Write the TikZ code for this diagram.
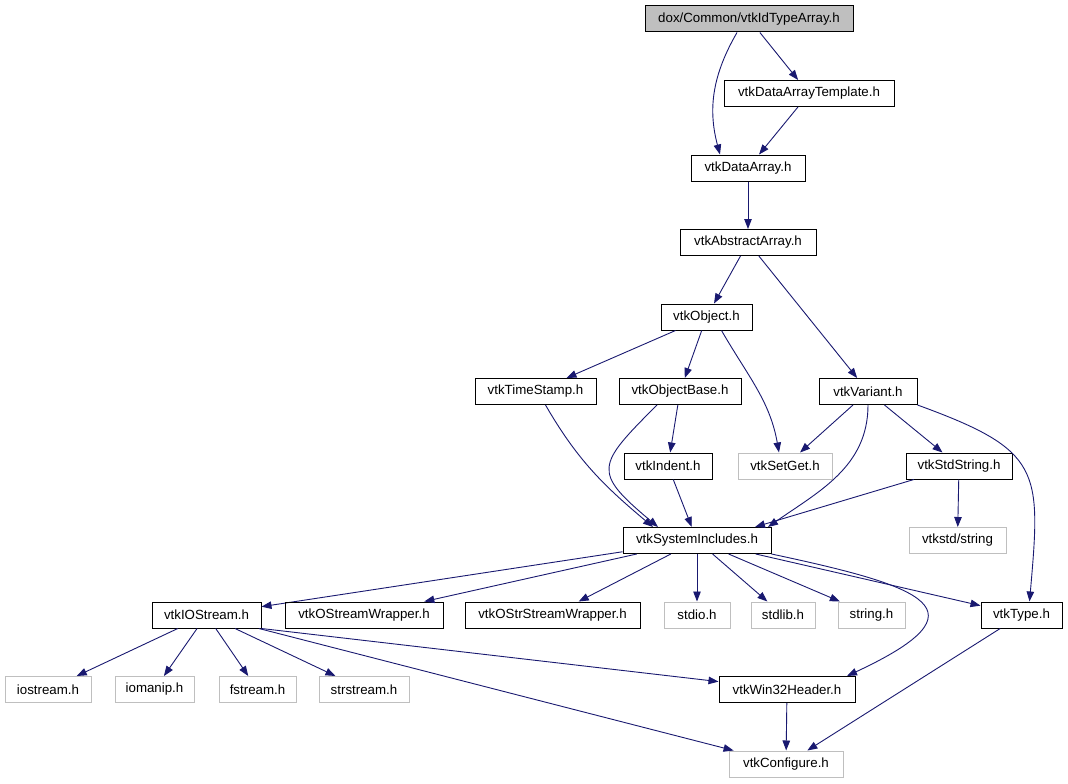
\documentclass[tikz,border=0pt]{standalone}
\usepackage{fontspec}
\setmainfont{Liberation Sans}
\usetikzlibrary{arrows.meta}
\definecolor{linkblue}{HTML}{191970}
\definecolor{sysgray}{HTML}{BFBFBF}
\tikzset{
    %Define standard arrow tip
    >={Triangle[length=10pt,width=7.5pt]},
    header/.style={
      rectangle,
      draw=black, line width=1pt,
      inner xsep=2pt, inner ysep=1pt,
      minimum height=26pt,
      font=\fontsize{13.3}{16}\selectfont,
      text centered},
    sysheader/.style={
      header,
      draw=sysgray},
    link/.style={
      draw=linkblue, line width=0.9pt},
}

\begin{document}
\begin{tikzpicture}[x=1pt, y=1pt, node distance=74.5pt,
    every edge/.style={link}]
    \useasboundingbox (0,0) rectangle (1068,-784);
    \node (idta) [header, fill=sysgray, minimum width=208pt] at (749,-19)
          {dox/Common/vtkIdTypeArray.h};
    \node (dat) [header, minimum width=170pt] [below of=idta, xshift=60pt]
          {vtkDataArrayTemplate.h}
          edge [<-] (idta);
    \node (da) [header, minimum width=114pt] [below of=dat, xshift=-61pt]
          {vtkDataArray.h}
          edge [<-] (dat);
    \node (aa) [header, minimum width=136pt] [below of=da]
          {vtkAbstractArray.h}
          edge [<-] (da);
    \node (obj) [header, minimum width=91pt] [below of=aa, xshift=-41.5pt]
          {vtkObject.h}
          edge [<-] (aa);
    \node (var) [header, minimum width=98pt] [below of=obj, xshift=161.5pt]
          {vtkVariant.h}
          edge [<-] (aa);
    \node (ts) [header, minimum width=121pt] [below of=obj, xshift=-171pt]
          {vtkTimeStamp.h}
          edge [<-] (obj);
    \node (ob) [header, minimum width=122pt] [below of=obj, xshift=-26.5pt]
          {vtkObjectBase.h}
          edge [<-] (obj);
    \node (sg) [sysheader, minimum width=94pt] [below of=ob, xshift=105pt]
          {vtkSetGet.h}
          edge [<-] (var);
    \node (ind) [header, minimum width=88pt] [below of=ob, xshift=-12pt]
          {vtkIndent.h}
          edge [<-] (ob);
    \node (ss) [header, minimum width=106pt] [below of=var, xshift=91pt]
          {vtkStdString.h}
          edge [<-] (var);
    \node (vs) [sysheader, minimum width=97pt] [below of=ss, xshift=-1.5pt]
          {vtkstd/string}
          edge [<-] (ss);
    \node (si) [header, minimum width=148pt] [below of=ind, xshift=29pt]
          {vtkSystemIncludes.h}
          edge [<-] (ind);
    \node (ios) [header, minimum width=109pt] [below of=si, xshift=-490.5pt]
          {vtkIOStream.h}
          edge [<-] (si);
    \node (osw) [header, minimum width=158pt] [below of=si, xshift=-333pt]
          {vtkOStreamWrapper.h}
          edge [<-] (si);
    \node (ossw) [header, minimum width=175pt] [below of=si, xshift=-144.5pt]
          {vtkOStrStreamWrapper.h}
          edge [<-] (si);
    \node (stdio) [sysheader, minimum width=66pt] [below of=si]
          {stdio.h}
          edge [<-] (si);
    \node (stdlib) [sysheader, minimum width=64pt] [below of=si, xshift=86pt]
          {stdlib.h}
          edge [<-] (si);
    \node (str) [sysheader, minimum width=67pt] [below of=si, xshift=174.5pt]
          {string.h}
          edge [<-] (si);
    \node (type) [header, minimum width=81pt] [below of=si, xshift=324.5pt]
          {vtkType.h}
          edge [<-] (si);
    \node (iostr) [sysheader, minimum width=86pt] [below of=ios, xshift=-158.5pt]
          {iostream.h}
          edge [<-] (ios);
    \node (iom) [sysheader, minimum width=79pt] [below of=ios, xshift=-52pt]
          {iomanip.h}
          edge [<-] (ios);
    \node (fstr) [sysheader, minimum width=77pt] [below of=ios, xshift=51pt]
          {fstream.h}
          edge [<-] (ios);
    \node (sstr) [sysheader, minimum width=90pt] [below of=ios, xshift=157.5pt]
          {strstream.h}
          edge [<-] (ios);
    \node (w32) [header, minimum width=136pt] [below of=stdio, xshift=90pt]
          {vtkWin32Header.h}
          edge [<-] (ios.south east);
    \node (conf) [sysheader, minimum width=114pt] [below of=w32, xshift=-1pt]
          {vtkConfigure.h}
          edge [<-] (w32)
          edge [<-] (type)
          edge [<-] (ios);
    % curved links
    \draw [link, ->] ([xshift=-12pt]idta.south) to [out=240, in=105] ([xshift=-28pt]da.north);
    \draw [link, ->] ([xshift=15pt]obj.south) to [out=-60, in=100] ([xshift=-6pt]sg.north);
    \draw [link, ->] ([xshift=10pt]ts.south) to [out=-60, in=140] ([xshift=-44pt]si.north);
    \draw [link, ->] ([xshift=-23pt]ob.south) to [out=225, in=140, looseness=1.8] ([xshift=-39pt]si.north);
    \draw [link, ->] (var.south) to [out=270, in=35] ([xshift=71pt]si.north);
    \draw [link, ->] (ss) -- ([xshift=58pt]si.north);
    \draw [link, ->] (var.south east) to [out=-20, in=85, looseness=1.5] ([xshift=8pt]type.north);
    \draw [link, ->] (si.south east) to [out=-12, in=25, looseness=2.8] ([xshift=60pt]w32.north);
\end{tikzpicture}
\end{document}
